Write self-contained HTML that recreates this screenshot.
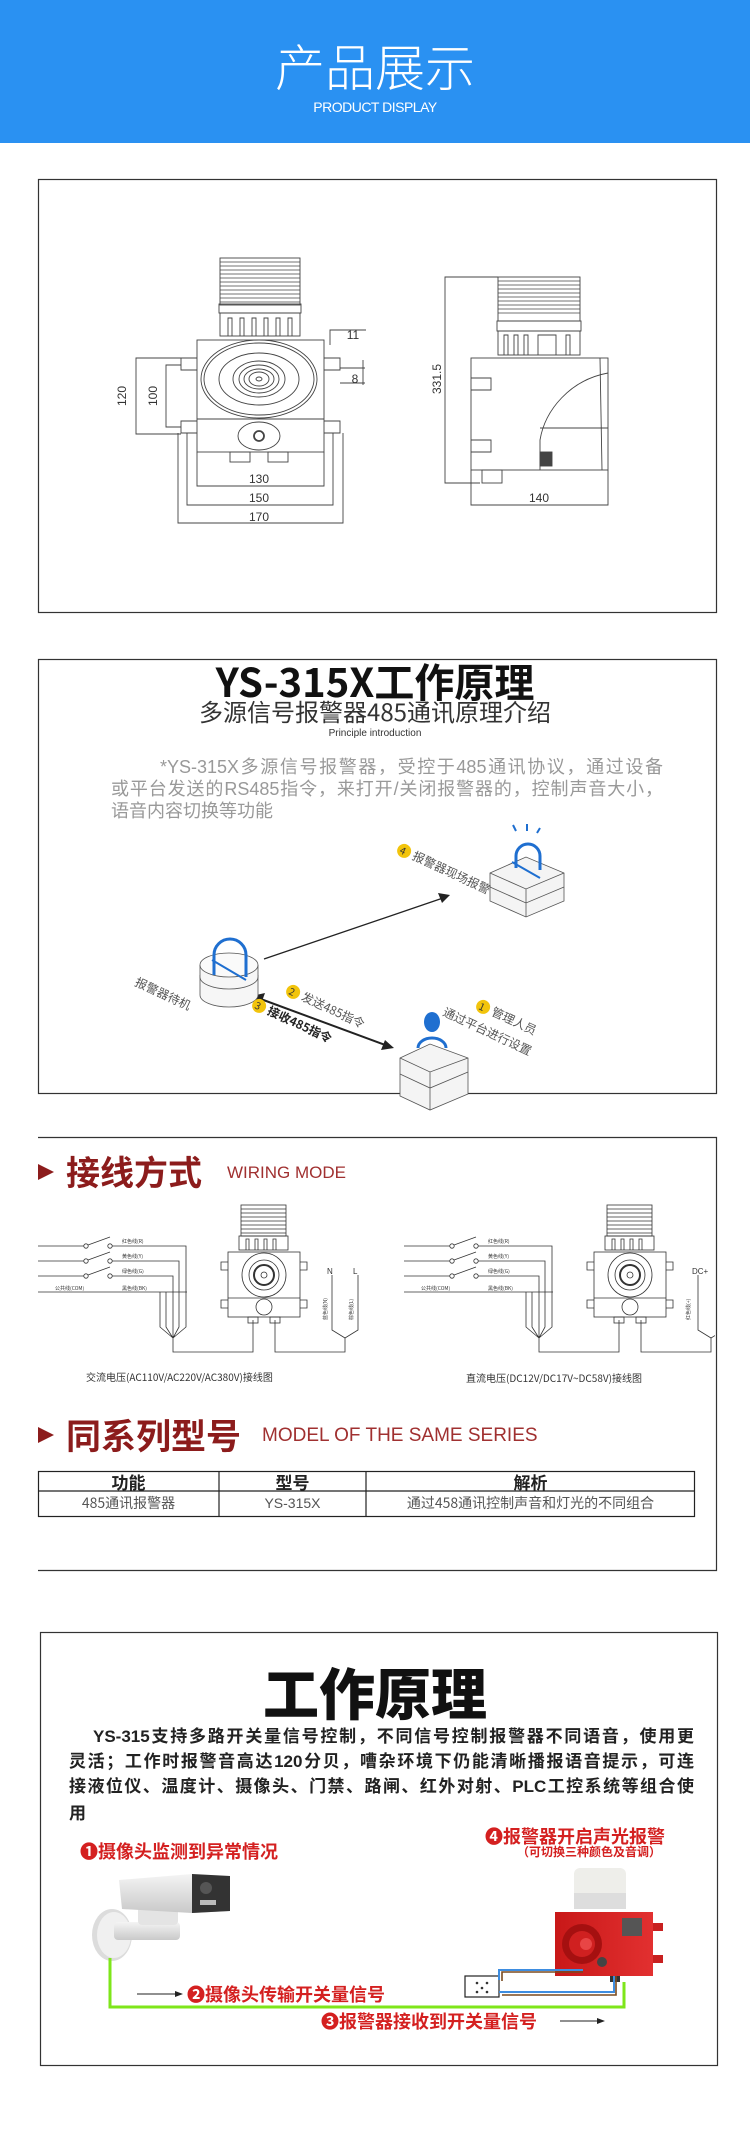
<!DOCTYPE html>
<html><head><meta charset="utf-8">
<style>
*{margin:0;padding:0;box-sizing:border-box}
body{width:750px;height:2150px;background:#fff;position:relative;overflow:hidden;font-family:"Liberation Sans","Noto Sans CJK SC",sans-serif}
.t{position:absolute;white-space:nowrap;line-height:1}
.c{text-align:center;left:0;width:750px}
.j{position:absolute;white-space:nowrap;text-align:justify;text-align-last:justify;font-family:"Liberation Sans","Noto Sans CJK SC",sans-serif}
</style></head><body>

<div style="position:absolute;left:0;top:0;width:750px;height:143px;background:#2a91f2"></div>
<div class="t c" style="top:40px;font-size:50px;color:#fff;font-weight:300;font-family:'Noto Sans CJK SC',sans-serif">产品展示</div>
<div class="t c" style="top:100px;font-size:14px;color:#fff;letter-spacing:-0.5px">PRODUCT DISPLAY</div>

<svg width="750" height="2150" style="position:absolute;left:0;top:0" xmlns="http://www.w3.org/2000/svg">
<defs>
<clipPath id="cl"><rect x="38" y="1138" width="677" height="400"/></clipPath>
<linearGradient id="camg" x1="0" y1="0" x2="0" y2="1"><stop offset="0" stop-color="#f4f4f4"/><stop offset="1" stop-color="#c9c9c9"/></linearGradient>
<linearGradient id="redg" x1="0" y1="0" x2="1" y2="0"><stop offset="0" stop-color="#c81818"/><stop offset="1" stop-color="#e23030"/></linearGradient>
</defs>

<rect x="38.5" y="179.5" width="678" height="433" fill="none" stroke="#333" stroke-width="1.2"/>
<g stroke="#444" fill="none" stroke-width="0.9">
 <rect x="220" y="258" width="80" height="47" fill="#fff"/>
 <g stroke-width="0.7"><line x1="220" y1="262" x2="300" y2="262"/><line x1="220" y1="266" x2="300" y2="266"/><line x1="220" y1="270" x2="300" y2="270"/><line x1="220" y1="274" x2="300" y2="274"/><line x1="220" y1="278" x2="300" y2="278"/><line x1="220" y1="282" x2="300" y2="282"/><line x1="220" y1="286" x2="300" y2="286"/><line x1="220" y1="290" x2="300" y2="290"/><line x1="220" y1="294" x2="300" y2="294"/><line x1="220" y1="298" x2="300" y2="298"/><line x1="220" y1="302" x2="300" y2="302"/></g>
 <rect x="219" y="304" width="82" height="9"/>
 <rect x="220" y="313" width="80" height="23"/>
 <path d="M228 336V318h4v18M240 336V318h4v18M252 336V318h4v18M264 336V318h4v18M276 336V318h4v18M288 336V318h4v18"/>
 <rect x="197" y="340" width="127" height="112"/>
 <line x1="197" y1="419" x2="324" y2="419"/>
 <ellipse cx="259" cy="379" rx="58" ry="39"/>
 <ellipse cx="259" cy="379" rx="55" ry="36"/>
 <ellipse cx="259" cy="379" rx="40" ry="26"/>
 <ellipse cx="259" cy="379" rx="26" ry="18"/>
 <ellipse cx="259" cy="379" rx="20" ry="14"/>
 <ellipse cx="259" cy="379" rx="15" ry="10"/>
 <ellipse cx="259" cy="379" rx="10" ry="7"/>
 <ellipse cx="259" cy="379" rx="3" ry="2"/>
 <path d="M197 358h-16v12h16M197 421h-16v12h16M324 358h16v12h-16M324 421h16v12h-16"/>
 <ellipse cx="259" cy="436" rx="21" ry="14"/>
 <circle cx="259" cy="436" r="5" stroke-width="1.8"/>
 <rect x="230" y="452" width="20" height="10"/><rect x="268" y="452" width="20" height="10"/>
 <path d="M197 452v34h127v-34"/>
 <path d="M187 433v72h146v-72"/>
 <path d="M178 433v90h165v-90"/>
 <path d="M181 358h-45v76h45"/>
 <path d="M181 365h-15v62h15"/>
 <path d="M330 345v-15h36M340 368h25M340 383h25M363 360v25"/>
 <rect x="498" y="277" width="82" height="44" fill="#fff"/>
 <g stroke-width="0.7"><line x1="498" y1="281" x2="580" y2="281"/><line x1="498" y1="285" x2="580" y2="285"/><line x1="498" y1="289" x2="580" y2="289"/><line x1="498" y1="293" x2="580" y2="293"/><line x1="498" y1="297" x2="580" y2="297"/><line x1="498" y1="301" x2="580" y2="301"/><line x1="498" y1="305" x2="580" y2="305"/><line x1="498" y1="309" x2="580" y2="309"/><line x1="498" y1="313" x2="580" y2="313"/></g>
 <rect x="497" y="321" width="84" height="10"/>
 <rect x="498" y="331" width="82" height="24"/>
 <path d="M504 355v-20h4v20M514 355v-20h4v20M524 355v-20h4v20M538 355v-20h18v20M566 355v-20h4v20"/>
 <rect x="471" y="358" width="137" height="112"/>
 <path d="M600 358L602 470M608 373C570 380 545 410 540 440v30M540 428h68"/>
 <path d="M471 378h20v12h-20M471 440h20v12h-20"/>
 <rect x="482" y="470" width="20" height="13"/>
 <rect x="540" y="452" width="12" height="14" fill="#444"/>
 <path d="M498 277h-53v206h35"/>
 <path d="M471 470v35h137v-35"/>
</g>
<g font-size="12" fill="#333" text-anchor="middle">
 <text x="259" y="483">130</text><text x="259" y="502">150</text><text x="259" y="521">170</text>
 <text x="539" y="502">140</text><text x="353" y="339">11</text><text x="355" y="383">8</text>
 <text transform="translate(126,396) rotate(-90)">120</text>
 <text transform="translate(157,396) rotate(-90)">100</text>
 <text transform="translate(441,379) rotate(-90)">331.5</text>
</g>

<rect x="38.5" y="659.5" width="678" height="434" fill="none" stroke="#333" stroke-width="1.2"/>
<line x1="264" y1="959" x2="443" y2="898" stroke="#222" stroke-width="1.3"/>
<polygon points="450,895 438,893 442,903" fill="#222"/>
<line x1="258" y1="998" x2="388" y2="1046" stroke="#222" stroke-width="2"/>
<polygon points="252,996 265,993 261,1004" fill="#222"/>
<polygon points="394,1048 381,1050 385,1040" fill="#222"/>
<g stroke="#555" stroke-width="0.8" fill="#f6f6f6">
 <path d="M200 975v20a29 12 0 0 0 58 0v-20"/>
 <path d="M200 965v12a29 12 0 0 0 58 0v-12"/>
 <ellipse cx="229" cy="965" rx="29" ry="12" fill="#fafafa"/>
</g>
<path d="M214 975v-20a16 16 0 0 1 32 0v22" fill="none" stroke="#1f6fd0" stroke-width="3"/>
<line x1="212" y1="960" x2="246" y2="980" stroke="#1f6fd0" stroke-width="2"/>
<g stroke="#555" stroke-width="0.8" fill="#f4f4f4">
 <path d="M490 873l36-16 38 16v28l-38 16-36-16z"/>
 <path d="M490 873l36 16 38-16M526 889v28M490 887l36 16 38-16" fill="none"/>
</g>
<path d="M516 868v-12a12 12 0 0 1 24 0v14" fill="none" stroke="#1f6fd0" stroke-width="3"/>
<line x1="512" y1="862" x2="540" y2="878" stroke="#1f6fd0" stroke-width="2"/>
<path d="M513 825l3 6M527 824v7M540 828l-3 5" stroke="#1f6fd0" stroke-width="2"/>
<g stroke="#555" stroke-width="0.8" fill="#f4f4f4">
 <path d="M400 1058l30-14 38 14v36l-38 16-30-14z"/>
 <path d="M400 1058l30 14 38-14M430 1072v38M400 1074l30 14 38-16" fill="none"/>
</g>
<ellipse cx="432" cy="1022" rx="8" ry="10" fill="#1f6fd0"/>
<path d="M418 1048a14 10 0 0 1 28 0" fill="none" stroke="#1f6fd0" stroke-width="3"/>
<g font-family="'Noto Sans CJK SC',sans-serif" font-size="12" fill="#555">
 <g transform="translate(397,852) rotate(25)"><circle cx="6" cy="-4" r="7" fill="#f2c40c"/><text x="2" y="0" font-size="10" fill="#333">4</text><text x="16" y="0">报警器现场报警</text></g>
 <g transform="translate(134,985) rotate(25)"><text x="0" y="0">报警器待机</text></g>
 <g transform="translate(286,993) rotate(25)"><circle cx="6" cy="-4" r="7" fill="#f2c40c"/><text x="2" y="0" font-size="10" fill="#333">2</text><text x="16" y="0">发送485指令</text></g>
 <g transform="translate(252,1007) rotate(25)"><circle cx="6" cy="-4" r="7" fill="#f2c40c"/><text x="2" y="0" font-size="10" fill="#333">3</text><text x="16" y="0" font-weight="bold" fill="#222">接收485指令</text></g>
 <g transform="translate(476,1008) rotate(25)"><circle cx="6" cy="-4" r="7" fill="#f2c40c"/><text x="2" y="0" font-size="10" fill="#333">1</text><text x="16" y="0">管理人员</text></g>
 <g transform="translate(442,1015) rotate(25)"><text x="0" y="0">通过平台进行设置</text></g>
</g>

<path d="M38 1137.5H716.5V1570.5H38" fill="none" stroke="#333" stroke-width="1.2"/>
<polygon points="38,1164 54,1172 38,1180" fill="#8c1c1c"/>
<polygon points="38,1427 54,1435 38,1443" fill="#8c1c1c"/>
<g clip-path="url(#cl)">
<g id="wd" stroke="#333" stroke-width="0.8" fill="none">
 <path d="M38 1246h46M38 1261h46M38 1276h46M38 1292h149"/>
 <circle cx="86" cy="1246" r="2.2"/><circle cx="110" cy="1246" r="2.2"/><line x1="88" y1="1245" x2="110" y2="1237"/>
 <circle cx="86" cy="1261" r="2.2"/><circle cx="110" cy="1261" r="2.2"/><line x1="88" y1="1260" x2="110" y2="1252"/>
 <circle cx="86" cy="1276" r="2.2"/><circle cx="110" cy="1276" r="2.2"/><line x1="88" y1="1275" x2="110" y2="1267"/>
 <path d="M112 1246h74v81l-13 11M112 1261h67v66l-6 11M112 1276h61v62M160 1292v35l13 11M166 1292v35l7 11"/>
 <path d="M173 1338v14h80v-32M275 1320v32h70v-14"/>
 <path d="M332 1275v55l13 8 13-8v-55"/>
 <rect x="241" y="1205" width="45" height="31"/>
 <path d="M241 1209h45M241 1213h45M241 1217h45M241 1221h45M241 1225h45M241 1229h45M241 1233h45"/>
 <rect x="239" y="1236" width="49" height="14"/>
 <path d="M246 1250v-11h3v11M255 1250v-11h3v11M264 1250v-11h3v11M273 1250v-11h3v11"/>
 <rect x="228" y="1252" width="72" height="65"/>
 <line x1="228" y1="1298" x2="300" y2="1298"/>
 <circle cx="264" cy="1275" r="22"/><circle cx="264" cy="1275" r="15"/><circle cx="264" cy="1275" r="10" stroke-width="2"/><circle cx="264" cy="1275" r="3"/>
 <path d="M228 1262h-7v8h7M228 1300h-7v8h7M300 1262h7v8h-7M300 1300h7v8h-7"/>
 <circle cx="264" cy="1307" r="8"/>
 <rect x="248" y="1317" width="10" height="6"/><rect x="270" y="1317" width="10" height="6"/>
 <g stroke="none" fill="#333" font-size="5" font-family="'Noto Sans CJK SC',sans-serif">
  <text x="122" y="1243">红色线(R)</text><text x="122" y="1258">黄色线(Y)</text><text x="122" y="1273">绿色线(G)</text><text x="122" y="1290">黑色线(BK)</text><text x="55" y="1290">公共线(COM)</text>
 </g>
</g>
<use href="#wd" x="366" y="0"/>
</g>
<g font-size="8" fill="#333">
 <text x="327" y="1274">N</text><text x="353" y="1274">L</text><text x="692" y="1274">DC+</text>
</g>
<g font-size="5" fill="#333" font-family="'Noto Sans CJK SC',sans-serif">
 <text transform="translate(327,1320) rotate(-90)">蓝色线(N)</text>
 <text transform="translate(353,1320) rotate(-90)">棕色线(L)</text>
 <text transform="translate(690,1320) rotate(-90)">红色线(+)</text>
</g>
<g stroke="#222" stroke-width="1.2" fill="none">
 <rect x="38.5" y="1471.5" width="656" height="45"/>
 <line x1="38" y1="1491" x2="695" y2="1491"/>
 <line x1="219" y1="1471" x2="219" y2="1517"/>
 <line x1="366" y1="1471" x2="366" y2="1517"/>
</g>

<rect x="40.5" y="1632.5" width="677" height="433" fill="none" stroke="#333" stroke-width="1.2"/>
<g>
 <ellipse cx="112" cy="1935" rx="20" ry="26" fill="#dcdcdc"/>
 <ellipse cx="114" cy="1935" rx="17" ry="23" fill="#f0f0f0"/>
 <rect x="114" y="1922" width="66" height="18" rx="4" fill="url(#camg)"/>
 <rect x="138" y="1905" width="40" height="20" rx="4" fill="#e4e4e4"/>
 <rect x="130" y="1895" width="50" height="14" rx="6" fill="#ececec"/>
 <path d="M119 1880l73-6 38 2v35l-38 2-70-4z" fill="url(#camg)"/>
 <path d="M192 1874l38 2v35l-38 2z" fill="#333"/>
 <circle cx="206" cy="1888" r="6" fill="#555"/>
 <rect x="200" y="1900" width="16" height="5" fill="#bbb"/>
</g>
<g>
 <rect x="574" y="1868" width="52" height="30" rx="6" fill="#eeeeea"/>
 <rect x="574" y="1893" width="52" height="16" fill="#ddd"/>
 <rect x="555" y="1912" width="98" height="64" fill="url(#redg)"/>
 <circle cx="582" cy="1944" r="20" fill="#a51010"/>
 <circle cx="582" cy="1944" r="13" fill="#d02020"/>
 <circle cx="586" cy="1944" r="6" fill="#e84545"/>
 <rect x="622" y="1918" width="20" height="18" fill="#555"/>
 <rect x="653" y="1923" width="10" height="8" fill="#c82020"/>
 <rect x="653" y="1955" width="10" height="8" fill="#c82020"/>
 <circle cx="602" cy="1962" r="5" fill="#444"/>
 <rect x="610" y="1976" width="10" height="6" fill="#333"/>
</g>
<rect x="465" y="1976" width="34" height="21" fill="#fff" stroke="#222" stroke-width="1.2"/>
<g fill="#333"><circle cx="477" cy="1983" r="1.3"/><circle cx="487" cy="1983" r="1.3"/><circle cx="482" cy="1988" r="1.3"/><circle cx="477" cy="1992" r="1.3"/><circle cx="487" cy="1992" r="1.3"/></g>
<path d="M499 1980v-10h84M499 1992h115v-16" fill="none" stroke="#3e8de0" stroke-width="2"/>
<path d="M502 1981v-9h81M502 1995h114v-19" fill="none" stroke="#7a4a1e" stroke-width="1.6"/>
<path d="M110 1958v49h514v-25" fill="none" stroke="#7ee61a" stroke-width="3"/>
<path d="M137 1994h40" stroke="#222" stroke-width="1"/><polygon points="183,1994 175,1991 175,1997" fill="#222"/>
<path d="M560 2021h40" stroke="#222" stroke-width="1"/><polygon points="605,2021 597,2018 597,2024" fill="#222"/>
</svg>

<div class="t c" style="top:660px;font-size:40px;font-weight:bold;color:#111;font-family:'Noto Sans CJK SC',sans-serif">YS-315X工作原理</div>
<div class="t c" style="top:699px;font-size:24px;color:#333;font-family:'Noto Sans CJK SC',sans-serif">多源信号报警器485通讯原理介绍</div>
<div class="t c" style="top:729px;font-size:10px;color:#333">Principle introduction</div>
<div class="j" style="left:160px;width:503px;top:757px;font-size:18px;line-height:21px;color:#999">*YS-315X多源信号报警器，受控于485通讯协议，通过设备</div>
<div class="j" style="left:111px;width:552px;top:779px;font-size:18px;line-height:21px;color:#999">或平台发送的RS485指令，来打开/关闭报警器的，控制声音大小，</div>
<div class="t" style="left:111px;top:801px;font-size:18px;line-height:21px;color:#999;font-family:'Liberation Sans','Noto Sans CJK SC',sans-serif">语音内容切换等功能</div>

<div class="t" style="left:66px;top:1154px;font-size:34px;font-weight:bold;color:#8c1c1c;font-family:'Noto Sans CJK SC',sans-serif">接线方式</div>
<div class="t" style="left:227px;top:1164px;font-size:17px;color:#a03030">WIRING MODE</div>
<div class="t" style="left:86px;top:1372px;font-size:10px;color:#333;font-family:'Noto Sans CJK SC',sans-serif">交流电压(AC110V/AC220V/AC380V)接线图</div>
<div class="t" style="left:466px;top:1373px;font-size:10px;color:#333;font-family:'Noto Sans CJK SC',sans-serif">直流电压(DC12V/DC17V~DC58V)接线图</div>
<div class="t" style="left:66px;top:1417px;font-size:35px;font-weight:bold;color:#8c1c1c;font-family:'Noto Sans CJK SC',sans-serif">同系列型号</div>
<div class="t" style="left:262px;top:1426px;font-size:19px;color:#a03030">MODEL OF THE SAME SERIES</div>
<div class="t" style="left:38px;width:181px;text-align:center;top:1473px;font-size:17px;font-weight:bold;color:#222;font-family:'Noto Sans CJK SC',sans-serif">功能</div>
<div class="t" style="left:219px;width:147px;text-align:center;top:1473px;font-size:17px;font-weight:bold;color:#222;font-family:'Noto Sans CJK SC',sans-serif">型号</div>
<div class="t" style="left:366px;width:329px;text-align:center;top:1473px;font-size:17px;font-weight:bold;color:#222;font-family:'Noto Sans CJK SC',sans-serif">解析</div>
<div class="t" style="left:38px;width:181px;text-align:center;top:1496px;font-size:14px;color:#555;font-family:'Noto Sans CJK SC',sans-serif">485通讯报警器</div>
<div class="t" style="left:219px;width:147px;text-align:center;top:1496px;font-size:14px;color:#555">YS-315X</div>
<div class="t" style="left:366px;width:329px;text-align:center;top:1496px;font-size:14px;color:#555;font-family:'Noto Sans CJK SC',sans-serif">通过458通讯控制声音和灯光的不同组合</div>

<div class="t c" style="top:1664px;font-size:56px;font-weight:900;color:#111;font-family:'Noto Sans CJK SC',sans-serif">工作原理</div>
<div class="j" style="left:93px;width:601px;top:1726px;font-size:17px;line-height:22px;color:#222;font-weight:bold">YS-315支持多路开关量信号控制，不同信号控制报警器不同语音，使用更</div>
<div class="j" style="left:69px;width:625px;top:1751px;font-size:17px;line-height:22px;color:#222;font-weight:bold">灵活；工作时报警音高达120分贝，嘈杂环境下仍能清晰播报语音提示，可连</div>
<div class="j" style="left:69px;width:625px;top:1776px;font-size:17px;line-height:22px;color:#222;font-weight:bold">接液位仪、温度计、摄像头、门禁、路闸、红外对射、PLC工控系统等组合使</div>
<div class="t" style="left:69px;top:1801px;font-size:17px;line-height:22px;color:#222;font-weight:bold;font-family:'Noto Sans CJK SC',sans-serif">用</div>
<div class="t" style="left:80px;top:1842px;font-size:18px;font-weight:bold;color:#d42020;font-family:'Noto Sans CJK SC',sans-serif">❶摄像头监测到异常情况</div>
<div class="t" style="left:485px;top:1827px;font-size:18px;font-weight:bold;color:#d42020;font-family:'Noto Sans CJK SC',sans-serif">❹报警器开启声光报警</div>
<div class="t" style="left:517px;top:1846px;font-size:12px;font-weight:bold;color:#d42020;font-family:'Noto Sans CJK SC',sans-serif">（可切换三种颜色及音调）</div>
<div class="t" style="left:187px;top:1985px;font-size:18px;font-weight:bold;color:#d42020;font-family:'Noto Sans CJK SC',sans-serif">❷摄像头传输开关量信号</div>
<div class="t" style="left:321px;top:2012px;font-size:18px;font-weight:bold;color:#d42020;font-family:'Noto Sans CJK SC',sans-serif">❸报警器接收到开关量信号</div>

</body></html>
